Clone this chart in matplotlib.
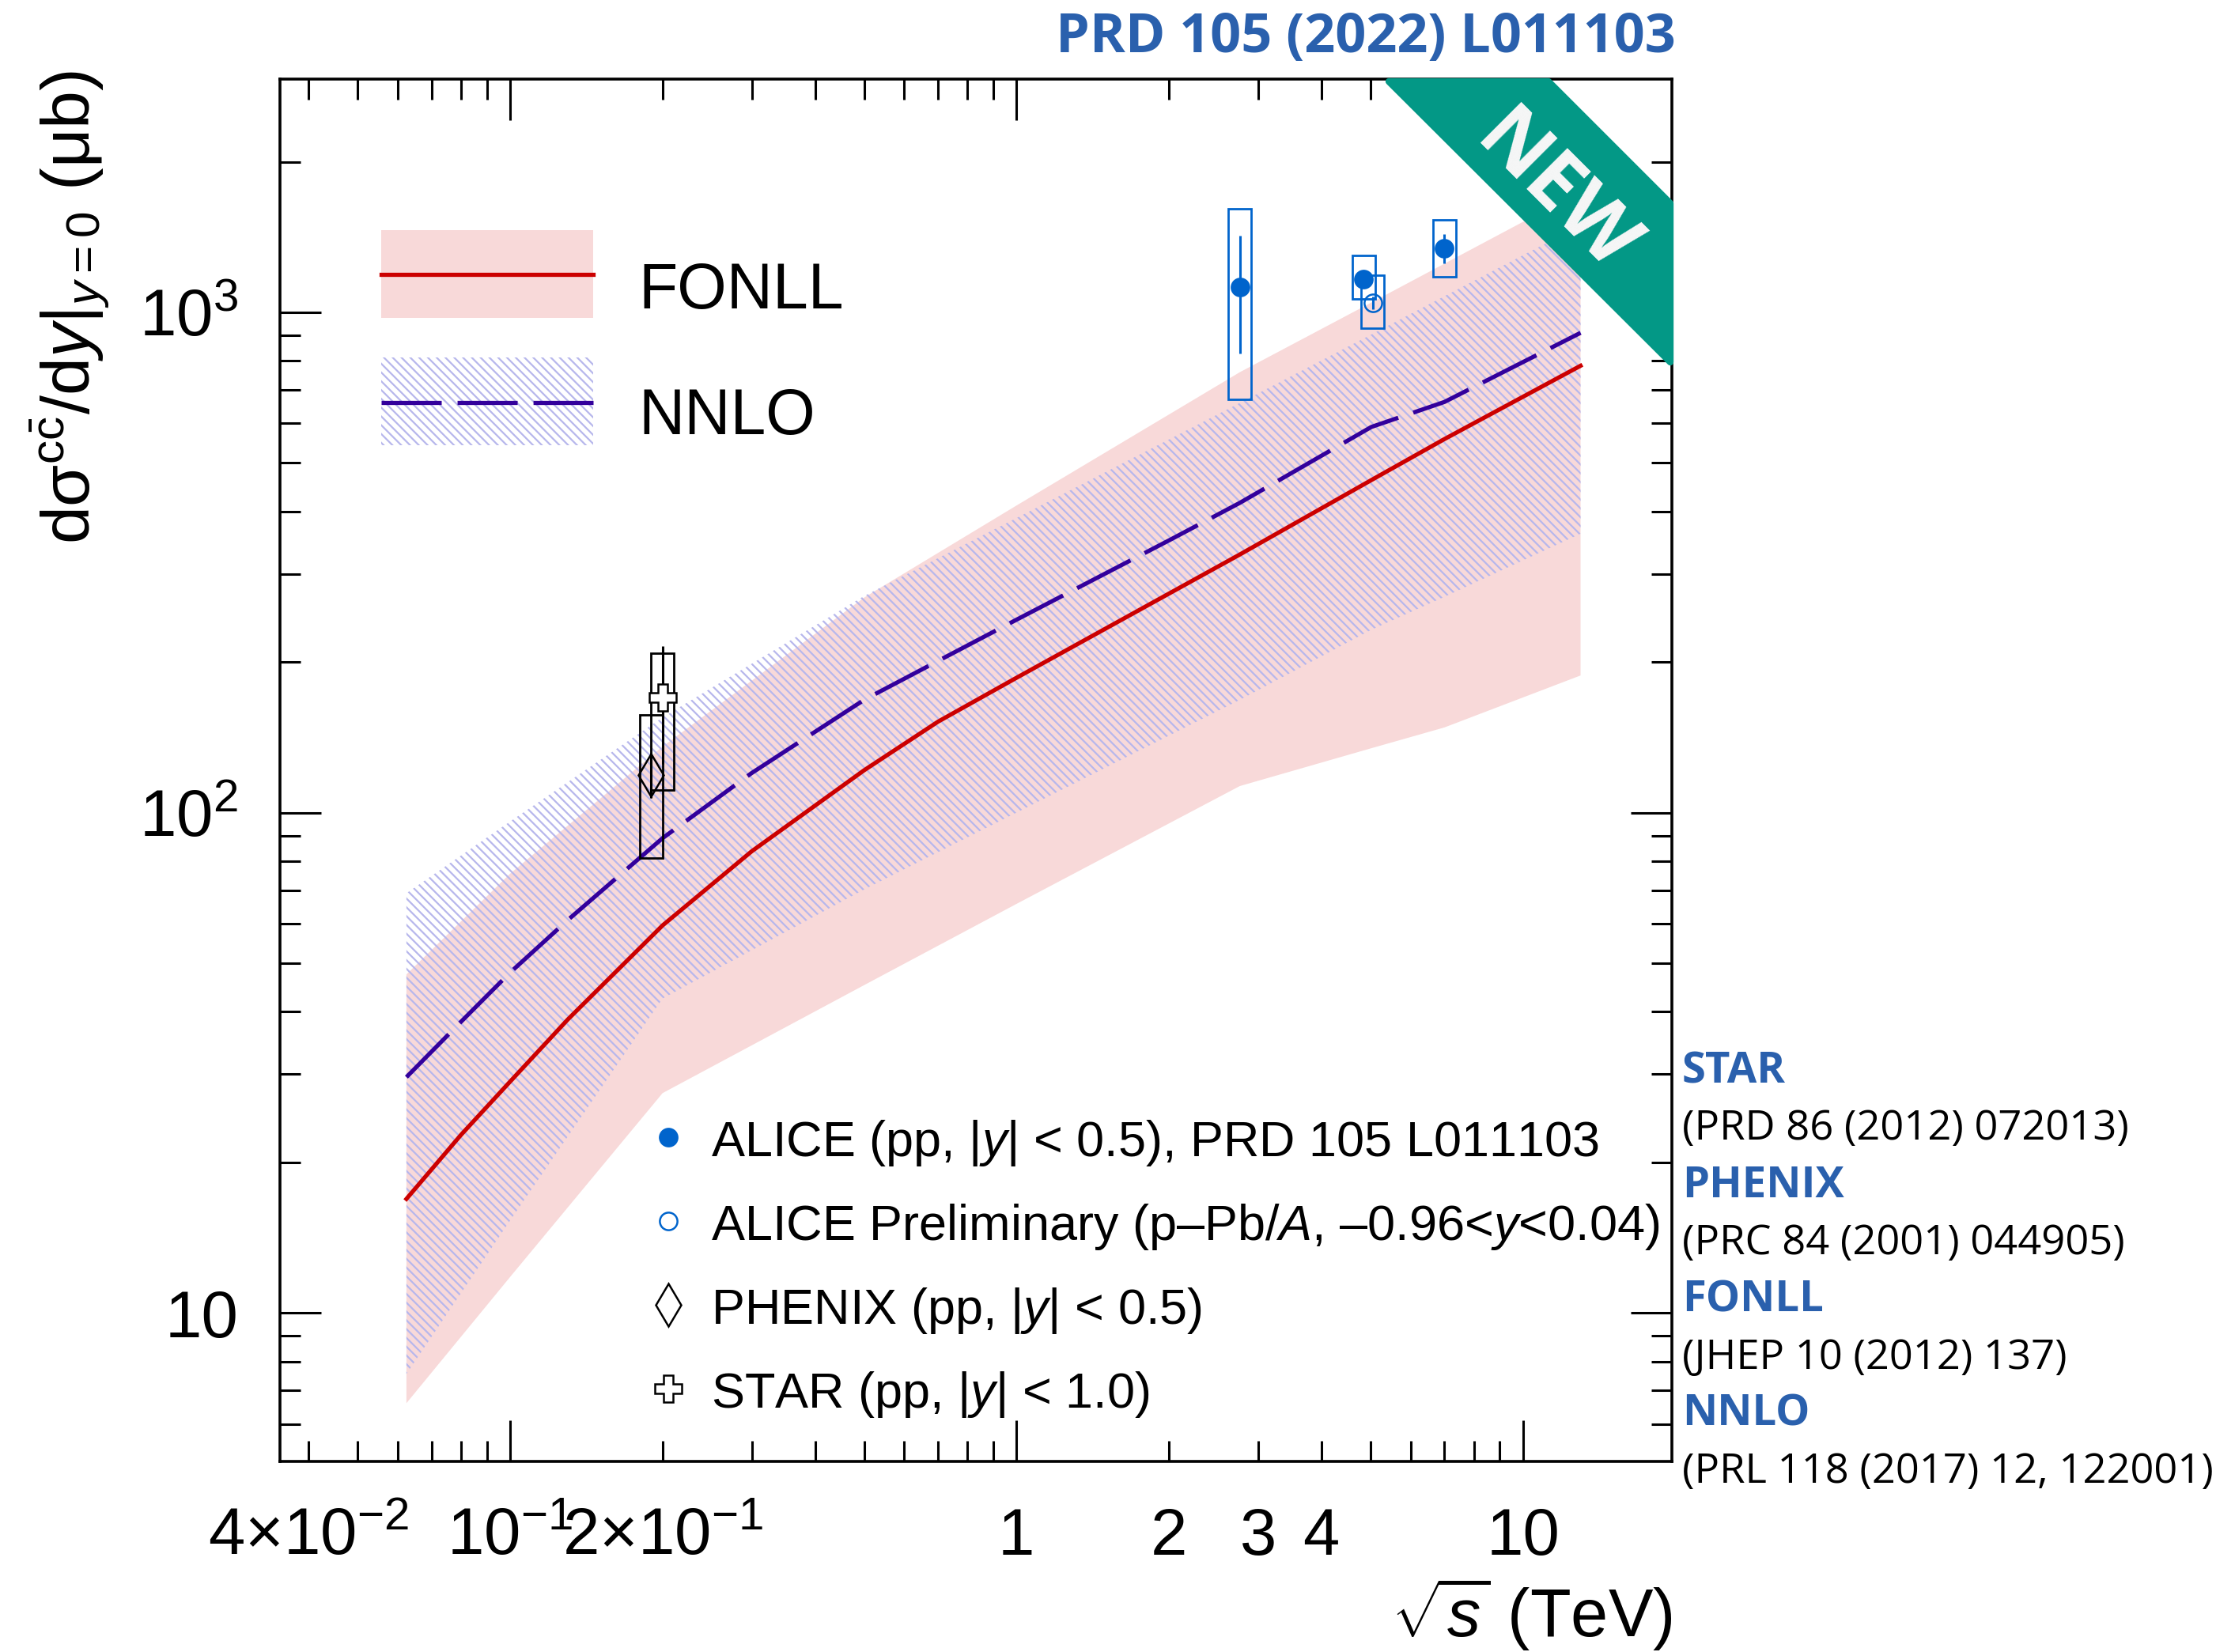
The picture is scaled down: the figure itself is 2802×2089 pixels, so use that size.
import matplotlib
matplotlib.use("Agg")
import matplotlib.pyplot as plt
from matplotlib.patches import Rectangle, Polygon

plt.rcParams["font.family"] = ["Liberation Sans", "DejaVu Sans"]
plt.rcParams["mathtext.fontset"] = "custom"
plt.rcParams["mathtext.rm"] = "Liberation Sans"
plt.rcParams["mathtext.it"] = "Liberation Sans:italic"
plt.rcParams["mathtext.bf"] = "Liberation Sans:bold"
plt.rcParams["hatch.linewidth"] = 0.8

# theory bands: sqrt(s) in TeV, dsigma/dy in microbarn
band_energy = [0.0624, 0.1, 0.2, 0.5, 1.0, 2.76, 5.02, 7.0, 13.0]
fonll_low = [6.6, 11.8, 27.5, 45.2, 65.7, 113, 134.5, 148, 188]
fonll_high = [47.5, 75.5, 135.5, 269, 411, 759, 1046, 1251, 1746]
nnlo_low = [7.55, 15.3, 42.5, 70.2, 100, 168, 232, 270, 361]
nnlo_high = [69, 96, 155, 271, 388, 659, 903, 1077, 1493]

# central predictions
curve_energy = [0.0624, 0.08, 0.1, 0.13, 0.2, 0.3, 0.5, 0.7, 1.0, 2.0, 2.76, 5.02, 7.0, 13.0]
fonll_central = [16.9, 22.7, 29.0, 38.6, 59.5, 83.7, 121.5, 152, 186, 274, 328, 462, 558, 782]
nnlo_central = [29.6, 38.2, 47.9, 61, 88.9, 120, 168, 201, 243, 350, 416, 590, 662, 910]

# measurements
alice_energy = [2.76, 4.85, 7.0]
alice_value = [1125, 1165, 1345]
alice_stat = [298, 44, 90]
alice_syst_lo = [455, 101, 167]
alice_syst_hi = [486, 134, 186]

ppb_energy = [5.05]
ppb_value = [1046]
ppb_stat = [30]
ppb_syst_lo = [116]
ppb_syst_hi = [141]

phenix_energy = [0.19]
phenix_value = [119]
phenix_stat = [12]
phenix_syst_lo = [38]
phenix_syst_hi = [38]

star_energy = [0.2]
star_value = [170]
star_stat = [45]
star_syst_lo = [59]
star_syst_hi = [38]

x_major = [0.1, 1, 10]
x_minor = [k * 10.0 ** e for e in (-2, -1, 0, 1) for k in range(2, 10)]
x_tick_text = {0.04: r"$\mathregular{4{\times}10^{-2}}$", 0.1: r"$\mathregular{10^{-1}}$",
               0.2: r"$\mathregular{2{\times}10^{-1}}$", 1: "1", 2: "2", 3: "3", 4: "4", 10: "10"}
y_major = [10, 100, 1000]
y_minor = [k * 10.0 ** e for e in (0, 1, 2, 3) for k in range(2, 10)]
y_tick_text = ["10", r"$\mathregular{10^{2}}$", r"$\mathregular{10^{3}}$"]

references = [("STAR", "(PRD 86 (2012) 072013)"),
              ("PHENIX", "(PRC 84 (2001) 044905)"),
              ("FONLL", "(JHEP 10 (2012) 137)"),
              ("NNLO", "(PRL 118 (2017) 12, 122001)")]

FONLL_FILL = "#f8d9d9"
FONLL_LINE = "#cc0000"
NNLO_LINE = "#33009c"
NNLO_HATCH = "#b7b7ec"
HATCH = "\\" * 6
ALICE_BLUE = "#0064cc"
REF_BLUE = "#2a60ad"
TEAL = "#039886"
NNLO_DASH = (0, (14.4, 3.8))
BOX_F = 1.054


def draw_points(ax, x, y, stat, lo, hi, color, marker, mfc, ms):
    for xi, yi, l, h in zip(x, y, lo, hi):
        ax.add_patch(Rectangle((xi / BOX_F, yi - l), xi * BOX_F - xi / BOX_F, l + h,
                               fill=False, ec=color, lw=1.0, zorder=5))
    ax.errorbar(x, y, yerr=stat, fmt=marker, color=color, mfc=mfc, mec=color,
                ms=ms, mew=0.9, elinewidth=1.1, capsize=0, zorder=6)


fig = plt.figure(figsize=(14.01, 10.445), dpi=200)
ax = fig.add_axes([0.1263, 0.1154, 0.6282, 0.8367])
ax.set_xscale("log")
ax.set_yscale("log")

ax.fill_between(band_energy, fonll_low, fonll_high, facecolor=FONLL_FILL, edgecolor="none", zorder=1)
ax.fill_between(band_energy, nnlo_low, nnlo_high, facecolor="none", edgecolor=NNLO_HATCH,
                linewidth=0, hatch=HATCH, zorder=2)
ax.plot(curve_energy, fonll_central, color=FONLL_LINE, lw=1.9, zorder=3)
ax.plot(curve_energy, nnlo_central, color=NNLO_LINE, lw=1.9, ls=NNLO_DASH, zorder=3)

draw_points(ax, phenix_energy, phenix_value, phenix_stat, phenix_syst_lo, phenix_syst_hi,
            "black", "d", "none", 13.5)
draw_points(ax, star_energy, star_value, star_stat, star_syst_lo, star_syst_hi,
            "black", "P", "white", 12)
draw_points(ax, alice_energy, alice_value, alice_stat, alice_syst_lo, alice_syst_hi,
            ALICE_BLUE, "o", ALICE_BLUE, 8)
draw_points(ax, ppb_energy, ppb_value, ppb_stat, ppb_syst_lo, ppb_syst_hi,
            ALICE_BLUE, "o", "none", 8)

ax.set_xlim(0.0351, 19.7)
ax.set_ylim(5.05, 2925)

ax.set_xticks(x_major, [x_tick_text.get(v, "") for v in x_major])
ax.set_xticks([v for v in x_minor if 0.0351 < v < 19.7],
              [x_tick_text.get(round(v, 3), "") for v in x_minor if 0.0351 < v < 19.7], minor=True)
ax.set_yticks(y_major, y_tick_text)
ax.set_yticks([v for v in y_minor if 5.05 < v < 2925], minor=True)
ax.yaxis.set_minor_formatter(plt.NullFormatter())

ax.tick_params(which="both", direction="in", top=True, right=True, width=1.1, labelsize=30)
ax.tick_params(which="major", length=18.7)
ax.tick_params(which="minor", length=9.4)
ax.tick_params(axis="x", which="both", pad=42.5)
ax.tick_params(axis="y", which="both", pad=19)
for lab in ax.get_xticklabels() + ax.get_xticklabels(minor=True):
    lab.set_verticalalignment("baseline")
for sp in ax.spines.values():
    sp.set_linewidth(1.3)

ax.set_xlabel(r"$\sqrt{s}$ (TeV)", fontsize=30.5, loc="right")
ax.xaxis.set_label_coords(1.0, -0.083)
ax.set_ylabel(r"d$\mathrm{\sigma}^{\mathrm{c\bar{c}}}$/d$y|_{y=0}$ (μb)", fontsize=31)
ax.yaxis.label.set(rotation_mode="default", ha="center", va="top")
ax.yaxis.set_label_coords(-0.1506, 1.0063)

# theory keys
key_x0, key_x1 = 0.073, 0.2253
ax.add_patch(Rectangle((key_x0, 0.8272), key_x1 - key_x0, 0.0635, transform=ax.transAxes,
                       fc=FONLL_FILL, ec="none", zorder=7))
ax.plot([key_x0, key_x1], [0.8587, 0.8587], transform=ax.transAxes, color=FONLL_LINE, lw=1.9, zorder=8)
ax.text(0.2578, 0.8343, "FONLL", transform=ax.transAxes, fontsize=29, va="baseline")
ax.add_patch(Rectangle((key_x0, 0.7351), key_x1 - key_x0, 0.0635, transform=ax.transAxes,
                       fc="none", ec=NNLO_HATCH, lw=0, hatch=HATCH, zorder=7))
ax.plot([key_x0, key_x1], [0.766, 0.766], transform=ax.transAxes, color=NNLO_LINE, lw=1.9,
        ls=NNLO_DASH, zorder=8)
ax.text(0.2578, 0.7433, "NNLO", transform=ax.transAxes, fontsize=29, va="baseline")

# data keys
data_keys = [
    ("o", ALICE_BLUE, ALICE_BLUE, 8, r"ALICE (pp, |$y$| < 0.5), PRD 105 L011103"),
    ("o", ALICE_BLUE, "none", 8, r"ALICE Preliminary (p–Pb/$A$, –0.96<$y$<0.04)"),
    ("d", "black", "none", 13.5, r"PHENIX (pp, |$y$| < 0.5)"),
    ("P", "black", "white", 12, r"STAR (pp, |$y$| < 1.0)"),
]
for i, (mk, col, mfc, ms, label) in enumerate(data_keys):
    yb = 0.2209 - i * 0.0606
    ax.plot([0.279], [yb + 0.0134], marker=mk, color=col, mfc=mfc, mec=col, ms=ms, mew=0.9,
            transform=ax.transAxes, zorder=8)
    ax.text(0.3097, yb, label, transform=ax.transAxes, fontsize=22.7, va="baseline", zorder=8)

fig.text(0.756, 0.9768, "PRD 105 (2022) L011103", ha="right", va="center", color=REF_BLUE,
         fontsize=24.6, fontweight="bold", family="Open Sans")

for i, (name, ref) in enumerate(references):
    yb = 0.34466 - 2 * i * 0.03461
    fig.text(0.759, yb, name, color=REF_BLUE, fontsize=19.6, fontweight="bold",
             family="Open Sans", va="baseline")
    fig.text(0.759, yb - 0.03461, ref, color="black", fontsize=18.9, family="Open Sans",
             va="baseline")

# corner ribbon
W, H = 2802.0, 2089.0
ribbon_px = [(1756, 103), (1958, 103), (2112, 257), (2112, 458)]
fig.patches.append(Polygon([(x / W, 1 - y / H) for x, y in ribbon_px], closed=True,
                           transform=fig.transFigure, fc=TEAL, ec=TEAL, lw=3,
                           joinstyle="round", zorder=10))
fig.text(1966 / W, 1 - 246 / H, "NEW", rotation=-45, rotation_mode="anchor", ha="center",
         va="center", color="#f7f7f7", fontsize=37, fontweight="bold", family="Open Sans", zorder=11)

fig.savefig("out.png", dpi=200)
